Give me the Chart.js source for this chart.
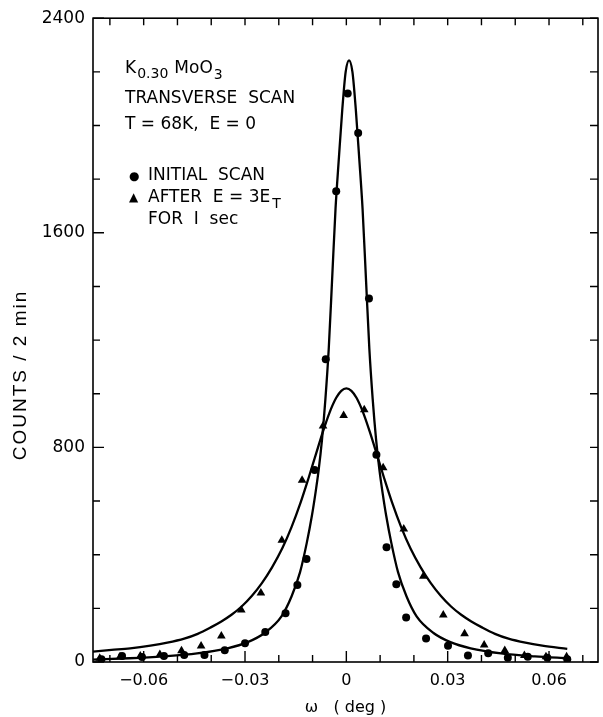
<!DOCTYPE html>
<html>
<head>
<meta charset="utf-8">
<script src="https://cdn.jsdelivr.net/npm/chart.js@4.4.1/dist/chart.umd.min.js"></script>
<style>
  html, body { margin: 0; padding: 0; background: #fff; }
  canvas { display: block; }
</style>
</head>
<body>
<canvas id="scanChart" width="603" height="717"></canvas>
<script>
// initial scan (circles)
const initialOmega = [-0.0725, -0.0664, -0.0605, -0.054, -0.048, -0.042, -0.036, -0.030, -0.024, -0.018,
  -0.0145, -0.0118, -0.0094, -0.0061, -0.003, 0.0004, 0.0035, 0.0067, 0.0089, 0.0119,
  0.0148, 0.0177, 0.0236, 0.0301, 0.036, 0.042, 0.0478, 0.0537, 0.0595, 0.0654];
const initialCounts = [10, 22, 19, 22, 26, 26, 44, 70, 112, 182,
  287, 384, 716, 1129, 1755, 2119, 1972, 1355, 773, 428,
  290, 166, 88, 61, 24, 33, 16, 20, 16, 10];

// after E = 3E_T for 1 sec (triangles)
const afterOmega = [-0.073, -0.067, -0.061, -0.0552, -0.0488, -0.043, -0.037, -0.0311, -0.0253, -0.0191,
  -0.0131, -0.0069, -0.0008, 0.0053, 0.0109, 0.017, 0.0228, 0.0287, 0.035, 0.0408,
  0.0469, 0.0527, 0.0591, 0.0652];
const afterCounts = [14, 20, 22, 28, 42, 60, 97, 194, 257, 454,
  678, 880, 919, 940, 724, 496, 320, 175, 105, 63,
  43, 24, 20, 20];

// fitted curves
const initialFitOmega = [-0.075, -0.0642, -0.0542, -0.0442, -0.0352, -0.0292, -0.0242, -0.0192, -0.0162, -0.0137,
  -0.0117, -0.0102, -0.0092, -0.0082, -0.0072, -0.0062, -0.0052, -0.0042, -0.0032, -0.0022,
  -0.0012, -0.0002, 0.0008, 0.0018, 0.0028, 0.0038, 0.0048, 0.0058, 0.0068, 0.0078,
  0.0088, 0.0098, 0.0108, 0.0118, 0.0133, 0.0153, 0.0178, 0.0208, 0.0258, 0.0308,
  0.0368, 0.0458, 0.0558, 0.0657];
const initialFitCounts = [9, 14, 21, 32, 51, 74, 108, 170, 245, 335,
  445, 545, 625, 715, 830, 980, 1170, 1430, 1690, 1880,
  2060, 2200, 2243, 2200, 2060, 1880, 1690, 1430, 1170, 980,
  830, 715, 625, 545, 445, 335, 245, 170, 108, 74,
  51, 32, 21, 14];

const afterFitOmega = [-0.075, -0.0695, -0.064, -0.058, -0.053, -0.048, -0.044, -0.040, -0.037, -0.034,
  -0.031, -0.028, -0.025, -0.022, -0.019, -0.0162, -0.0135, -0.0112, -0.009, -0.007,
  -0.005, -0.003, -0.0015, 0, 0.0015, 0.003, 0.005, 0.007, 0.009, 0.0112,
  0.0135, 0.0162, 0.019, 0.022, 0.025, 0.028, 0.031, 0.034, 0.037, 0.040,
  0.044, 0.048, 0.053, 0.058, 0.0654];
const afterFitCounts = [39, 45, 51, 61, 72, 87, 105, 130, 151, 176,
  207, 246, 294, 353, 423, 504, 596, 685, 775, 856,
  929, 985, 1011, 1020, 1011, 985, 929, 856, 775, 685,
  596, 504, 423, 353, 294, 246, 207, 176, 151, 130,
  105, 87, 72, 61, 49];

const xLabelValues = [-0.06, -0.03, 0, 0.03, 0.06];
const xTickLabels = ['\u22120.06', '\u22120.03', '0', '0.03', '0.06'];
const yLabelValues = [0, 800, 1600, 2400];
const yTickLabels = ['0', '800', '1600', '2400'];

const FONT = '"DejaVu Sans", sans-serif';

function toPoints(xs, ys) {
  return xs.map((x, i) => ({ x: x, y: ys[i] }));
}

function findLabel(values, labels, v) {
  const i = values.findIndex(a => Math.abs(a - v) < 1e-6);
  return i >= 0 ? labels[i] : '';
}

// frame on all four sides, ticks pointing inward
const frameTicks = {
  id: 'frameTicks',
  afterDraw(chart) {
    const ctx = chart.ctx;
    const a = chart.chartArea;
    const xs = chart.scales.x;
    const ys = chart.scales.y;
    ctx.save();
    ctx.strokeStyle = '#000';
    ctx.lineWidth = 1.6;
    ctx.strokeRect(a.left, a.top, a.right - a.left, a.bottom - a.top);
    ctx.lineWidth = 1.4;
    ctx.beginPath();
    xs.ticks.forEach(t => {
      const px = xs.getPixelForValue(t.value);
      const len = findLabel(xLabelValues, xTickLabels, t.value) ? 11 : 7;
      ctx.moveTo(px, a.bottom); ctx.lineTo(px, a.bottom - len);
      ctx.moveTo(px, a.top); ctx.lineTo(px, a.top + 7);
    });
    ys.ticks.forEach(t => {
      const py = ys.getPixelForValue(t.value);
      const len = findLabel(yLabelValues, yTickLabels, t.value) ? 11 : 7;
      ctx.moveTo(a.left, py); ctx.lineTo(a.left + len, py);
      ctx.moveTo(a.right, py); ctx.lineTo(a.right - 8, py);
    });
    ctx.stroke();
    ctx.restore();
  }
};

// text block in the upper left and the y axis title
const notes = {
  id: 'notes',
  afterDraw(chart) {
    const ctx = chart.ctx;
    const L = chart.chartArea.left;
    ctx.save();
    ctx.fillStyle = '#000';
    ctx.textBaseline = 'alphabetic';
    function put(txt, x, y, size) {
      ctx.font = size + 'px ' + FONT;
      ctx.fillText(txt, x, y);
      return x + ctx.measureText(txt).width;
    }
    let x = L + 32;
    x = put('K', x, 73, 17);
    x = put('0.30', x + 1, 78, 14);
    x = put('MoO', x + 6, 73, 17);
    put('3', x + 1, 79, 14);
    put('TRANSVERSE  SCAN', L + 32, 103, 17);
    put('T = 68K,  E = 0', L + 32, 129, 17);
    put('\u25CF', L + 36, 180, 12);
    put('INITIAL  SCAN', L + 55, 180, 17);
    put('\u25B2', L + 36, 201, 12);
    x = put('AFTER  E = 3E', L + 55, 202, 17);
    put('T', x + 2, 208, 14);
    put('FOR  I  sec', L + 55, 224, 17);

    // y axis title
    ctx.translate(21, 375);
    ctx.rotate(-Math.PI / 2);
    ctx.font = '19px "Liberation Sans", sans-serif';
    ctx.letterSpacing = '2px';
    ctx.textAlign = 'center';
    ctx.textBaseline = 'middle';
    ctx.fillText('COUNTS / 2 min', 0, 0);
    ctx.restore();
  }
};

window.onload = function() {
  const ctx = document.getElementById('scanChart').getContext('2d');
  new Chart(ctx, {
    type: 'scatter',
    data: {
      datasets: [
        { label: 'Initial scan', data: toPoints(initialOmega, initialCounts), pointStyle: 'circle',
          pointRadius: 4, backgroundColor: '#000', borderColor: '#000', borderWidth: 0, order: 0 },
        { label: 'After E = 3E_T for 1 sec', data: toPoints(afterOmega, afterCounts), pointStyle: 'triangle',
          pointRadius: 5, backgroundColor: '#000', borderColor: '#000', borderWidth: 0, order: 1 },
        { label: 'Initial fit', data: toPoints(initialFitOmega, initialFitCounts), showLine: true,
          pointRadius: 0, borderColor: '#000', borderWidth: 2.3, cubicInterpolationMode: 'monotone', order: 2 },
        { label: 'After fit', data: toPoints(afterFitOmega, afterFitCounts), showLine: true,
          pointRadius: 0, borderColor: '#000', borderWidth: 2.3, cubicInterpolationMode: 'monotone', order: 3 }
      ]
    },
    options: {
      responsive: false,
      animation: false,
      devicePixelRatio: 1,
      layout: { padding: { top: 13, right: 2, left: 0, bottom: 0 } },
      plugins: {
        legend: { display: false },
        tooltip: { enabled: false }
      },
      scales: {
        x: {
          type: 'linear',
          min: -0.075,
          max: 0.0745,
          grid: { display: false, drawTicks: false },
          border: { display: false },
          ticks: {
            stepSize: 0.01,
            includeBounds: false,
            autoSkip: false,
            maxRotation: 0,
            padding: 9,
            color: '#000',
            font: { family: FONT, size: 16 },
            callback: v => findLabel(xLabelValues, xTickLabels, v)
          },
          title: {
            display: true,
            text: '\u03C9   ( deg )',
            color: '#000',
            font: { family: FONT, size: 16 },
            padding: { top: 0, bottom: 0 }
          },
          afterFit: s => { s.height = 55; }
        },
        y: {
          min: 0,
          max: 2400,
          grid: { display: false, drawTicks: false },
          border: { display: false },
          ticks: {
            stepSize: 200,
            autoSkip: false,
            padding: 8,
            color: '#000',
            font: { family: FONT, size: 17 },
            callback: v => findLabel(yLabelValues, yTickLabels, v)
          },
          afterFit: s => { s.width = 93; }
        }
      }
    },
    plugins: [frameTicks, notes]
  });
};
</script>
</body>
</html>
